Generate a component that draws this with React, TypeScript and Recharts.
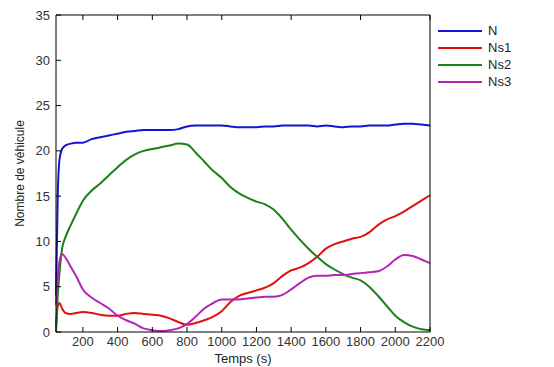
import { Legend, Line, LineChart, XAxis, YAxis } from "recharts";

const times = [
  45, 55, 65, 80, 100, 130, 160, 200, 250, 300, 350, 400, 450, 500, 550, 600, 650, 700, 750, 800,
  850, 900, 950, 1000, 1050, 1100, 1150, 1200, 1250, 1300, 1350, 1400, 1450, 1500, 1550, 1600,
  1650, 1700, 1750, 1800, 1850, 1900, 1950, 2000, 2050, 2100, 2150, 2200,
];

const nTotal = [
  4, 15, 19, 20.2, 20.6, 20.8, 20.9, 20.9, 21.3, 21.5, 21.7, 21.9, 22.1, 22.2, 22.3, 22.3, 22.3,
  22.3, 22.4, 22.7, 22.8, 22.8, 22.8, 22.8, 22.7, 22.6, 22.6, 22.6, 22.7, 22.7, 22.8, 22.8, 22.8,
  22.8, 22.7, 22.8, 22.7, 22.6, 22.7, 22.7, 22.8, 22.8, 22.8, 22.9, 23.0, 23.0, 22.9, 22.8,
];

const ns1 = [
  0.5, 2.8, 3.2, 2.6, 2.1, 2.0, 2.1, 2.2, 2.1, 1.9, 1.8, 1.8, 2.0, 2.1, 2.0, 1.9, 1.8, 1.5, 1.1,
  0.8, 1.0, 1.3, 1.7, 2.3, 3.3, 4.0, 4.3, 4.6, 4.9, 5.4, 6.2, 6.8, 7.1, 7.6, 8.3, 9.2, 9.7, 10.0,
  10.3, 10.5, 11.0, 11.8, 12.4, 12.8, 13.3, 13.9, 14.5, 15.1,
];

const ns2 = [
  0, 4, 6.5, 9.2, 10.5, 11.8, 13, 14.5, 15.6, 16.4, 17.3, 18.2, 19.0, 19.6, 20.0, 20.2, 20.4, 20.6,
  20.8, 20.7, 19.8, 18.8, 17.8, 17.0, 16.0, 15.3, 14.8, 14.4, 14.1, 13.5, 12.5, 11.3, 10.2, 9.2,
  8.3, 7.5, 6.9, 6.4, 6.0, 5.7, 5.0, 4.0, 2.9, 1.8, 1.1, 0.6, 0.3, 0.2,
];

const ns3 = [
  3, 6, 7.8, 8.6, 8.2, 7.2, 6.2, 4.7, 3.8, 3.2, 2.6, 1.8, 1.3, 0.9, 0.4, 0.2, 0.1, 0.2, 0.4, 0.9,
  1.7, 2.6, 3.2, 3.6, 3.6, 3.6, 3.7, 3.8, 3.9, 3.9, 4.1, 4.7, 5.4, 6.0, 6.2, 6.2, 6.3, 6.3, 6.4,
  6.5, 6.6, 6.7, 7.2, 8.0, 8.5, 8.4, 8.0, 7.6,
];

const xTicks = [200, 400, 600, 800, 1000, 1200, 1400, 1600, 1800, 2000, 2200];
const yTicks = [0, 5, 10, 15, 20, 25, 30, 35];

const SERIES = [
  { key: "N", color: "#1414d2" },
  { key: "Ns1", color: "#e01010" },
  { key: "Ns2", color: "#1a801a" },
  { key: "Ns3", color: "#b324b3" },
];

const data = times.map((t, i) => ({
  t,
  N: nTotal[i],
  Ns1: ns1[i],
  Ns2: ns2[i],
  Ns3: ns3[i],
}));

const FONT = '"Liberation Sans", Arial, sans-serif';
const TICK = { fontSize: 13, fill: "#333", fontFamily: FONT };
const AXIS_LINE = { stroke: "#000", strokeWidth: 1 };

function LegendBox() {
  return (
    <div style={{ fontFamily: FONT, fontSize: 13, color: "#222" }}>
      {SERIES.map((s) => (
        <div key={s.key} style={{ display: "flex", alignItems: "center", height: 17 }}>
          <svg width={44} height={4} style={{ marginRight: 6 }}>
            <line x1={0} y1={2} x2={44} y2={2} stroke={s.color} strokeWidth={2} />
          </svg>
          <span>{s.key}</span>
        </div>
      ))}
    </div>
  );
}

function YLabel({ viewBox }: any) {
  const cx = viewBox.x + 20;
  const cy = viewBox.y + viewBox.height / 2;
  return (
    <text
      x={cx}
      y={cy}
      transform={`rotate(-90, ${cx}, ${cy})`}
      textAnchor="middle"
      dominantBaseline="central"
      fontSize={12}
      fontFamily={FONT}
      fill="#222"
    >
      Nombre de véhicule
    </text>
  );
}

const noText = () => <g />;

export default function App() {
  return (
    <div style={{ position: "absolute", left: 0, top: 0, background: "#fff" }}>
      <LineChart width={554} height={367} data={data} margin={{ top: 14, right: 23, bottom: 0, left: 0 }}>
        <XAxis
          dataKey="t"
          type="number"
          domain={[45, 2200]}
          ticks={xTicks}
          tick={TICK}
          tickSize={-5}
          tickMargin={10}
          axisLine={AXIS_LINE}
          tickLine={AXIS_LINE}
          height={35}
          label={{ value: "Temps (s)", position: "insideBottom", offset: 4, fontSize: 13, fontFamily: FONT, fill: "#222" }}
        />
        <XAxis
          xAxisId="top"
          orientation="top"
          dataKey="t"
          type="number"
          domain={[45, 2200]}
          ticks={xTicks}
          tick={noText}
          tickSize={-5}
          axisLine={AXIS_LINE}
          tickLine={AXIS_LINE}
          height={1}
        />
        <YAxis
          type="number"
          domain={[0, 35]}
          ticks={yTicks}
          tick={TICK}
          tickSize={-5}
          tickMargin={11}
          axisLine={AXIS_LINE}
          tickLine={AXIS_LINE}
          width={56}
          label={{ content: YLabel }}
        />
        <YAxis
          yAxisId="right"
          orientation="right"
          type="number"
          domain={[0, 35]}
          ticks={yTicks}
          tick={noText}
          tickSize={-5}
          axisLine={AXIS_LINE}
          tickLine={AXIS_LINE}
          width={1}
        />
        <Legend
          layout="vertical"
          verticalAlign="top"
          align="right"
          content={() => <LegendBox />}
          wrapperStyle={{ position: "absolute", left: 438, top: 22, width: 100 }}
        />
        {SERIES.map((s) => (
          <Line
            key={s.key}
            type="monotone"
            dataKey={s.key}
            stroke={s.color}
            strokeWidth={2}
            dot={false}
            isAnimationActive={false}
          />
        ))}
      </LineChart>
    </div>
  );
}
